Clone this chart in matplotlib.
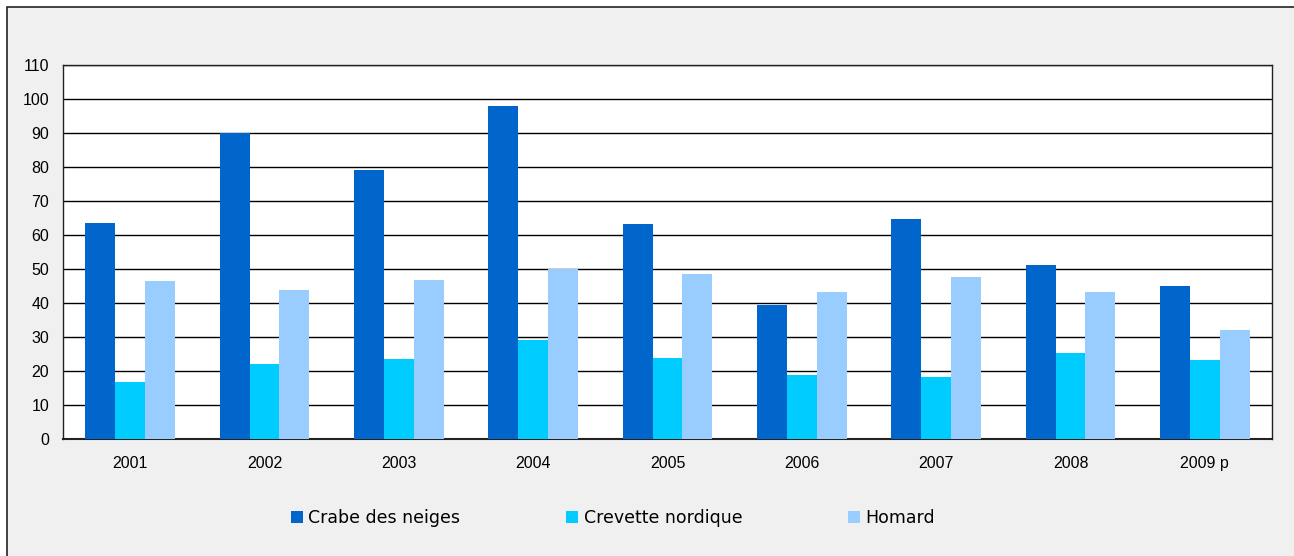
"""Débarquements : crabe des neiges, crevette nordique et homard, 2001-2009 p."""

import matplotlib
matplotlib.use("Agg")
import matplotlib.pyplot as plt  # noqa: E402
import numpy as np  # noqa: E402
from matplotlib.patches import Rectangle  # noqa: E402

years = ["2001", "2002", "2003", "2004", "2005", "2006", "2007", "2008", "2009 p"]
crabe = [63.5, 90.0, 79.1, 97.9, 63.2, 39.4, 64.7, 51.2, 45.0]
crevette = [16.8, 22.1, 23.5, 29.1, 23.8, 18.8, 18.2, 25.3, 23.2]
homard = [46.5, 43.8, 46.8, 50.0, 48.5, 43.2, 47.6, 43.2, 32.0]

series = [
    ("Crabe des neiges", crabe, "#0066CC"),
    ("Crevette nordique", crevette, "#00CCFF"),
    ("Homard", homard, "#99CCFF"),
]

W, H = 1294, 556
fig = plt.figure(figsize=(W / 100, H / 100), dpi=100)
fig.patch.set_facecolor("white")

# outer frame, open on the right and bottom like the source
fig.patches.append(Rectangle((7 / W, -0.1), 1.2, 1.1 - 7 / H, transform=fig.transFigure,
                             facecolor="#F0F0F0", edgecolor="#222222", linewidth=1.2, zorder=-10))

ax = fig.add_axes([63 / W, 1 - 439 / H, (1272 - 63) / W, (439 - 65) / H], zorder=2)
ax.set_facecolor("white")

x = np.arange(len(years))
bw = 0.223
for i, (name, vals, col) in enumerate(series):
    ax.bar(x + (i - 1) * bw, vals, width=bw, color=col, label=name, zorder=3, linewidth=0)

ax.set_xlim(-0.5, len(years) - 0.5)
ax.set_ylim(0, 110)
ax.set_yticks(range(0, 111, 10))
ax.set_xticks(x)
ax.set_xticklabels(years)
ax.yaxis.grid(True, color="black", linewidth=1.0, zorder=1)
ax.set_axisbelow(True)
for lab in ax.get_xticklabels() + ax.get_yticklabels():
    lab.set_fontfamily("Liberation Sans")
    lab.set_fontsize(11.5)
ax.tick_params(axis="y", length=0, pad=10)
ax.tick_params(axis="x", length=0, pad=12)
for s in ax.spines.values():
    s.set_color("#222222")
    s.set_linewidth(1.0)
ax.spines["bottom"].set_linewidth(1.5)

fig.legend(loc="center left", bbox_to_anchor=(291 / W, 1 - 518 / H), ncol=3,
           frameon=False, borderaxespad=0, borderpad=0,
           prop={"family": "DejaVu Sans", "size": 12.5},
           handlelength=0.7, handleheight=0.7, handletextpad=0.3, columnspacing=6.1)

fig.savefig("out.png", dpi=100, facecolor=fig.get_facecolor())
